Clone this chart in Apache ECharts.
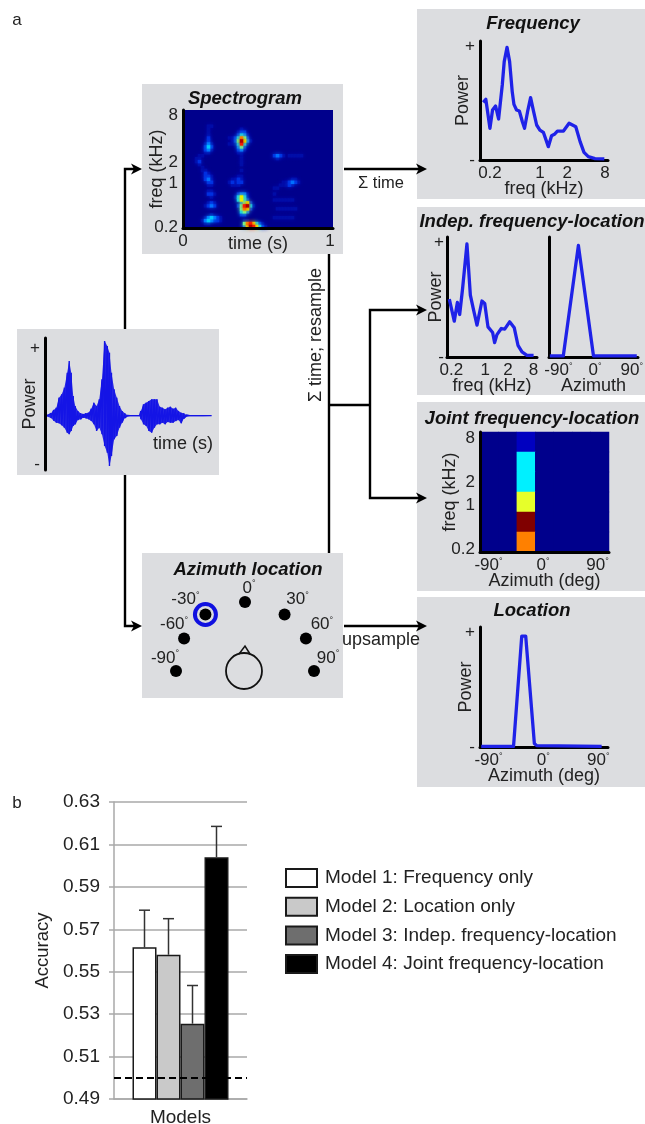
<!DOCTYPE html>
<html><head><meta charset="utf-8">
<style>html,body{margin:0;padding:0;background:#fff}#c{width:645px;height:1124px}</style>
<script src="https://cdn.jsdelivr.net/npm/echarts@6/dist/echarts.min.js"></script>
</head><body><div id="c"></div>
<script>
// ---------- DATA ----------
// waveform envelope (arbitrary amplitude units)
const waveTime=[.004,.02,.036,.052,.068,.084,.10,.116,.133,.145,.157,.169,.181,.197,.213,.229,.245,.261,.277,.293,.309,.325,.341,.357,.373,.386,.398,.414,.43,.446,.462,.478,.494,.51,.566,.574,.59,.606,.622,.639,.655,.671,.687,.703,.719,.735,.751,.767,.783,.799,.815,.831,.847,.867,.908,.948,.998];
const waveUpper=[1,3,8,18,25,55,65,85,130,165,130,60,30,15,8,6,8,10,22,40,30,50,110,225,210,190,130,80,55,30,15,8,2,1,1,15,35,40,45,50,50,50,28,25,20,25,28,22,25,15,10,8,3,1,1,1,1];
const waveLower=[1,3,6,14,20,22,28,35,50,55,45,30,25,12,10,5,7,10,15,25,45,35,55,90,110,150,120,70,60,35,20,6,2,1,1,10,25,30,45,50,35,25,25,20,25,18,20,20,15,12,22,8,3,1,1,1,1];
const waveTickValues=[204,-144];
const waveTickLabels=['+','-'];

// spectrogram cells: one string per frequency row (high to low), one digit per time bin
const specRows=[
'00000000000000000000000000000000000000000000000000',
'00000000000000000000000000000000000000000000000000',
'00000000000000000000000000000000000000000000000000',
'00000000000000000000000000000000000000000000000000',
'00000000000000000000000000000000000000000000000000',
'00000000110000000000000000000000000000000000000000',
'00000000100000000001000000000000000000000000000000',
'00000000100000000012200000000000000000000000000000',
'00000000100000000024310000000000000000000000000000',
'00000000200000011247520000000000000000000000000000',
'00000000200000001259631000000000000000000000000000',
'00000001310000011148410000000000000000000000000000',
'00000002420000000035200000000000000000000000000000',
'00000002310000000023100000000000000000000000000000',
'00000001100000000011000000000000000000000000000000',
'00000110000000000001000000000023210111110000000000',
'00001100000000000001000000000001000000000000000000',
'00001200000000000001000000000000000000000000000000',
'00000100000000000001000000000000000000000000000000',
'00000010000000000000000000000000000000000000000000',
'00000011000000000001000000000000000000000000000000',
'00000002100000000000000000000000000000000000000000',
'00000002210000000011000000000000000000000000000000',
'00000002310000001121000000000000000011000000000000',
'00000000220000012122000000000000011232100000000000',
'00000000110000001110000000000000111210000000000000',
'00000000000000000000000000000011000000000000000000',
'00000000110000000000000000000000000000000000000000',
'00000000221000000023310000000010000000000000000000',
'00000000010000000146410000000000000000000000000000',
'00000000000000000046420000000011111110000000000000',
'00000000121000000003562000000000000000000000000000',
'00000001232000000025894100000000000000000000000000',
'00000000000000000005762000000001111111000000000000',
'00000000000000000004530000000000000000000000000000',
'00000000010000000002200000000000000000000000000000',
'00000001343210000000000000000011111110000000000000',
'00000013432210000000110000000000000000000000000000',
'00000001100000000000578642100000000000000000000000',
'00000000000000000000369864210000000000000000000000'];
const specTimeTicks=[0,0.98];
const specTimeLabels=['0','1'];
const specFreqTicks=[0,2.08,3.08,5.32];
const freqLabels=['0.2','1','2','8'];
const jetLevels=['#00008c','#000ea8','#0030e0','#0070ff','#00c8ff','#60ffa0','#e8f000','#ff9000','#ff2000','#b00000'];

// Frequency panel (x: octaves above 0.2 kHz)
const freqOct=[-.31,-.19,0,.12,.26,.40,.57,.66,.79,.91,1.03,1.11,1.23,1.36,1.50,1.60,1.74,1.88,2.02,2.16,2.31,2.47,2.70,2.85,2.98,3.12,3.40,3.66,3.97,4.17,4.35,4.55,4.86,5.29];
const freqPower=[.506,.532,.278,.439,.474,.36,.658,.863,.988,.863,.6,.488,.439,.43,.336,.278,.424,.547,.424,.307,.263,.243,.117,.213,.225,.254,.254,.322,.292,.161,.067,.029,.012,.009];
const freqTicks=[0,2.31,3.58,5.32];

// Indep. frequency-location panel
const indepOct=[-.13,.19,.39,.54,.73,1.01,1.23,1.44,1.66,1.98,2.16,2.37,2.67,2.80,2.95,3.23,3.45,3.77,4.07,4.31,4.57,4.89,5.32];
const indepPower=[.504,.312,.475,.37,.598,.983,.539,.408,.277,.487,.466,.262,.213,.125,.195,.248,.242,.306,.254,.102,.044,.015,.015];
const indepTicks=[0,2.2,3.66,5.32];
const indepAz=[-111,-78,-41,-4,102];
const indepAzPower=[.009,.009,.97,.009,.009];

// Joint frequency-location cells (7 azimuth bins x 6 frequency bins)
const jointAzBins=['a1','a2','a3','a4','a5','a6','a7'];
const jointFreqBins=['f1','f2','f3','f4','f5','f6'];
const jointColumn=[1,3,3,5,9,7];   // frequency bins high to low, in the active azimuth bin
const jointActiveBin=2;
const jointFreqTicks=[0,2.11,3.21,5.32];
const azimuthTicks=[-90,0,90];

// Location panel
const locAz=[-102,-49,-35.5,-29,-14.8,-11,95.6];
const locPower=[.006,.006,.965,.965,.03,.012,.006];
const powerTicks=[0,1];
const powerLabels=['-','+'];

// Azimuth location
const azAngles=[-90,-62,-35,0,35,62,90];
const azLabels=['-90','-60','-30','0','30','60','90'];
const azSelected=-35;

// Panel b
const modelNames=['Model 1: Frequency only','Model 2: Location only','Model 3: Indep. frequency-location','Model 4: Joint frequency-location'];
const modelAccuracy=[.5615,.558,.5255,.604];
const modelErrorTop=[.579,.575,.5435,.6185];
const chanceLevel=.5;
const barCategory=['Models'];

// ---------- STYLE ----------
const FONT='"Liberation Sans",Arial,sans-serif';
const INK='#222', BLUE='#1f22e8', PANEL='#dcdde0', NAVY='#00008c';
const tickFont=17;
const richDeg={a:{fontSize:tickFont,color:INK,fontFamily:FONT},d:{fontSize:9,color:INK,fontFamily:FONT,verticalAlign:'top',padding:[0,0,6,0]}};
const deg=v=>'{a|'+v+'}{d|°}';

const grids=[],xAxes=[],yAxes=[],series=[];
function addGrid(l,t,w,h,bg){const g={left:l,top:t,width:w,height:h,containLabel:false,outerBoundsMode:'none'};
  if(bg){g.show=true;g.backgroundColor=bg;g.borderWidth=0;}
  grids.push(g);return grids.length-1;}
function axis(kind,g,o){
  const a={type:'value',gridIndex:g,min:o.min,max:o.max,z:5,position:kind==='x'?'bottom':'left',
    axisLine:{show:o.line!==false,onZero:false,lineStyle:{color:'#000',width:3}},
    axisTick:{show:false},splitLine:{show:false},
    axisLabel:o.ticks?{show:true,customValues:o.ticks,hideOverlap:false,margin:o.margin==null?5:o.margin,color:INK,fontSize:tickFont,fontFamily:FONT,
      rich:richDeg,formatter:v=>{const i=o.ticks.indexOf(v);return o.fmt?o.fmt(o.labels[i]):o.labels[i];}}:{show:false},
    name:o.name||'',nameLocation:'middle',nameGap:o.gap||0,nameMoveOverlap:false,
    nameTextStyle:{color:INK,fontSize:o.nameSize||18,fontFamily:FONT}};
  (kind==='x'?xAxes:yAxes).push(a);
  return (kind==='x'?xAxes:yAxes).length-1;
}
function lineSeries(g,xi,yi,xs,ys,w){
  series.push({type:'line',xAxisIndex:xi,yAxisIndex:yi,showSymbol:false,symbol:'none',z:6,
    lineStyle:{color:BLUE,width:w,join:'round'},data:xs.map((x,i)=>[x,ys[i]])});
}
const strs=a=>a.map(String);

// waveform
{const g=addGrid(45,338,167,132);
 const xi=axis('x',g,{min:0,max:1,line:false});
 const yi=axis('y',g,{min:-162,max:234,ticks:waveTickValues,labels:waveTickLabels,name:'Power',gap:6,margin:5});
 const waveColor='#1414e6';
 [[waveUpper,1],[waveLower,-1]].forEach(([env,sign])=>{
   series.push({type:'line',xAxisIndex:xi,yAxisIndex:yi,symbol:'none',showSymbol:false,z:3,lineStyle:{width:0},
     areaStyle:{color:waveColor,opacity:.9,origin:0},data:waveTime.map((t,i)=>[t,sign*env[i]])});
 });
 const pts=[];waveTime.forEach((t,i)=>{pts.push([t,waveUpper[i]]);pts.push([t,-waveLower[i]]);});
 series.push({type:'line',xAxisIndex:xi,yAxisIndex:yi,symbol:'none',showSymbol:false,z:3,lineStyle:{color:waveColor,width:1.4},data:pts});
}
// spectrogram
{const g=addGrid(183,110,150,118,NAVY);
 const cx=axis('x',g,{line:false});xAxes[cx]={type:'category',gridIndex:g,show:false,data:specRows[0].split('').map((_,i)=>i)};
 const cy=axis('y',g,{line:false});yAxes[cy]={type:'category',gridIndex:g,show:false,inverse:true,data:specRows.map((_,i)=>i)};
 axis('x',g,{min:0,max:1,ticks:specTimeTicks,labels:specTimeLabels,name:'time (s)',gap:7});
 axis('y',g,{min:-.05,max:5.57,ticks:specFreqTicks,labels:freqLabels,name:'freq (kHz)',gap:17});
 const d=[];specRows.forEach((r,y)=>r.split('').forEach((c,x)=>{if(+c>0)d.push([x,y,+c]);}));
 d.sort((a,b)=>a[2]-b[2]);
 series.push({type:'heatmap',xAxisIndex:cx,yAxisIndex:cy,z:2,progressive:0,
   data:d.map(v=>({value:v,itemStyle:{borderWidth:0,shadowBlur:4,shadowColor:jetLevels[v[2]]}}))});
 var specIdx=series.length-1;
}
// Frequency
{const g=addGrid(480,41,128,119);
 const xi=axis('x',g,{min:-.46,max:5.46,ticks:freqTicks,labels:freqLabels,name:'freq (kHz)',gap:20});
 const yi=axis('y',g,{min:0,max:1.044,ticks:powerTicks,labels:powerLabels,name:'Power',gap:8});
 lineSeries(g,xi,yi,freqOct,freqPower,3.3);
}
// Indep frequency
{const g=addGrid(447,237,90,120);
 const xi=axis('x',g,{min:-.28,max:5.54,ticks:indepTicks,labels:freqLabels,name:'freq (kHz)',gap:20});
 const yi=axis('y',g,{min:0,max:1.044,ticks:powerTicks,labels:powerLabels,name:'Power',gap:2,margin:3});
 lineSeries(g,xi,yi,indepOct,indepPower,3.3);
}
// Indep azimuth
{const g=addGrid(549,237,89,120);
 const xi=axis('x',g,{min:-113,max:105,ticks:azimuthTicks,labels:strs(azimuthTicks),fmt:deg,name:'Azimuth',gap:20});
 const yi=axis('y',g,{min:0,max:1.044});
 lineSeries(g,xi,yi,indepAz,indepAzPower,3.3);
}
// Joint heatmap
{const g=addGrid(480,432,129,120,NAVY);
 const cx=axis('x',g,{line:false});xAxes[cx]={type:'category',gridIndex:g,show:false,data:jointAzBins};
 const cy=axis('y',g,{line:false});yAxes[cy]={type:'category',gridIndex:g,show:false,inverse:true,data:jointFreqBins};
 axis('x',g,{min:-104,max:109,ticks:azimuthTicks,labels:strs(azimuthTicks),fmt:deg,name:'Azimuth (deg)',gap:20});
 axis('y',g,{min:-.14,max:5.61,ticks:jointFreqTicks,labels:freqLabels,name:'freq (kHz)',gap:21});
 const d=[];jointFreqBins.forEach((f,y)=>jointAzBins.forEach((a,x)=>d.push([x,y,x===jointActiveBin?jointColumn[y]:0])));
 series.push({type:'heatmap',xAxisIndex:cx,yAxisIndex:cy,data:d,z:2,itemStyle:{borderWidth:0}});
 var jointIdx=series.length-1;
}
// Location
{const g=addGrid(480,627,128,120);
 const xi=axis('x',g,{min:-104,max:106,ticks:azimuthTicks,labels:strs(azimuthTicks),fmt:deg,name:'Azimuth (deg)',gap:20});
 const yi=axis('y',g,{min:0,max:1.044,ticks:powerTicks,labels:powerLabels,name:'Power',gap:5});
 lineSeries(g,xi,yi,locAz,locPower,3.3);
}
// Bars
{const g=addGrid(114,802,133,297);
 const gray='#a9a9a9';
 xAxes.push({type:'category',gridIndex:g,data:barCategory,axisLine:{lineStyle:{color:gray,width:1.5}},axisTick:{show:false},
   axisLabel:{color:INK,fontSize:19,fontFamily:FONT,margin:9}});
 const xi=xAxes.length-1;
 yAxes.push({type:'value',gridIndex:g,min:.49,max:.63,interval:.02,
   axisLine:{show:true,lineStyle:{color:gray,width:1.5}},axisTick:{show:true,length:5,lineStyle:{color:gray,width:1.5}},
   splitLine:{show:true,lineStyle:{color:gray,width:1.5}},
   axisLabel:{color:INK,fontSize:19,fontFamily:FONT,margin:14,formatter:v=>v.toFixed(2)},
   name:'Accuracy',nameLocation:'middle',nameGap:62,nameMoveOverlap:false,nameTextStyle:{color:INK,fontSize:18.5,fontFamily:FONT}});
 const yi=yAxes.length-1;
 const fills=['#ffffff','#c9c9c9','#6e6e6e','#000000'];
 const BW=24;
 modelNames.forEach((n,i)=>{
   const s={type:'bar',name:n,xAxisIndex:xi,yAxisIndex:yi,barWidth:BW,barGap:'0%',z:3,
     itemStyle:{color:fills[i],borderColor:'#1a1a1a',borderWidth:1.5},data:[modelAccuracy[i]]};
   if(i===0)s.markLine={silent:true,symbol:'none',z:8,label:{show:false},lineStyle:{color:'#000',type:[7,4],width:2},data:[{yAxis:chanceLevel}]};
   series.push(s);
 });
 series.push({type:'custom',xAxisIndex:xi,yAxisIndex:yi,z:2,silent:true,
   data:modelErrorTop.map((h,i)=>[0,modelAccuracy[i],h,i]),encode:{x:0,y:[1,2]},
   renderItem:(p,api)=>{const lo=api.coord([0,api.value(1)]),hi=api.coord([0,api.value(2)]);
     const x=lo[0]+(api.value(3)-1.5)*BW, st={stroke:'#333',lineWidth:1.5};
     return {type:'group',children:[
       {type:'line',shape:{x1:x,y1:lo[1],x2:x,y2:hi[1]},style:st},
       {type:'line',shape:{x1:x-5.5,y1:hi[1],x2:x+5.5,y2:hi[1]},style:st}]};}});
}
// Azimuth positions
const azOffsets={'-90':[-11,-13],'-60':[-10,-14],'-30':[-20,-15],'0':[4,-14],'30':[13,-15],'60':[16,-14],'90':[14,-13]};
series.push({type:'scatter',coordinateSystem:'polar',polarIndex:0,symbol:'circle',symbolSize:12,z:6,
  itemStyle:{color:'#000',opacity:1},
  data:azAngles.map((a,i)=>({value:[1,a],
    label:{show:true,opacity:1,position:'inside',offset:azOffsets[azLabels[i]],formatter:deg(azLabels[i]),rich:richDeg}}))});
series.push({type:'scatter',coordinateSystem:'polar',polarIndex:0,symbol:'circle',symbolSize:21,z:5,
  itemStyle:{color:'transparent',opacity:1,borderColor:'#1010e0',borderWidth:4},data:[[1,azSelected]]});

// ---------- DECORATION ----------
const panels=[[142,84,201,170],[417,9,228,190],[417,207,228,188],[417,402,228,189],[417,597,228,190],[17,329,202,146],[142,553,201,145]];
const G=[];
panels.forEach(p=>G.push({type:'rect',z:-10,shape:{x:p[0],y:p[1],width:p[2],height:p[3]},style:{fill:PANEL}}));
const wire=(pts)=>G.push({type:'polyline',z:1,shape:{points:pts},style:{stroke:'#000',lineWidth:2.4,fill:null}});
const head=(x,y)=>G.push({type:'polygon',z:1,shape:{points:[[x,y],[x-11,y-5.5],[x-8,y],[x-11,y+5.5]]},style:{fill:'#000'}});
wire([[125,329],[125,169],[136,169]]);head(142,169);
wire([[125,475],[125,626],[136,626]]);head(142,626);
wire([[344,169],[421,169]]);head(427,169);
wire([[329,254],[329,553]]);
wire([[329,405],[370,405]]);
wire([[421,310],[370,310],[370,498],[421,498]]);head(427,310);head(427,498);
wire([[344,626],[421,626]]);head(427,626);
const txt=(t,x,y,o={})=>G.push(Object.assign({type:'text',z:3,x:x,y:y,style:{text:t,fill:INK,font:(o.size||16)+'px '+FONT,textAlign:'center',textVerticalAlign:'middle'}},o.extra||{}));
txt('a',17,20,{size:17});txt('b',17,803,{size:17});
txt('Σ time',381,183,{size:16.5});
txt('upsample',381,640,{size:18});
txt('time (s)',183,444,{size:18});
txt('Σ time; resample',316,335,{size:18,extra:{rotation:Math.PI/2}});
// head glyph
G.push({type:'circle',z:3,shape:{cx:244,cy:671,r:18},style:{fill:null,stroke:'#111',lineWidth:1.8}});
G.push({type:'polyline',z:3,shape:{points:[[239,654],[245,646],[250,654]]},style:{fill:null,stroke:'#111',lineWidth:1.5}});

const titles=[['Spectrogram',245,89],['Frequency',533,14],['Indep. frequency-location',532,212],['Joint frequency-location',532,409],['Location',532,601],['Azimuth location',248,560]]
 .map(t=>({text:t[0],left:t[1],top:t[2],textAlign:'center',padding:0,textStyle:{fontFamily:FONT,fontSize:18.5,fontWeight:'bold',fontStyle:'italic',color:'#111'}}));

const chart=echarts.init(document.getElementById('c'),null,{renderer:'canvas'});
chart.setOption({
  animation:false,backgroundColor:'#fff',textStyle:{fontFamily:FONT},
  title:titles,graphic:{elements:G},
  grid:grids,xAxis:xAxes,yAxis:yAxes,
  polar:{center:[245,671],radius:69},
  angleAxis:{type:'value',min:-180,max:180,startAngle:270,show:false},
  radiusAxis:{type:'value',min:0,max:1,show:false},
  visualMap:[
    {show:false,type:'continuous',seriesIndex:specIdx,min:0,max:9,dimension:2,inRange:{color:jetLevels}},
    {show:false,type:'continuous',seriesIndex:jointIdx,min:0,max:9,dimension:2,inRange:{color:['#00008c','#0000c0','#00a0ff','#00f0ff','#60ff90','#e6ff2a','#f0d000','#ff8000','#d00000','#800000']}}
  ],
  legend:{data:modelNames,orient:'vertical',left:285,top:868,padding:0,itemWidth:31,itemHeight:18,itemGap:8.7,icon:'rect',
    textStyle:{color:INK,fontSize:19,fontFamily:FONT,padding:[0,0,0,3]},selectedMode:false},
  series:series
});
</script></body></html>
